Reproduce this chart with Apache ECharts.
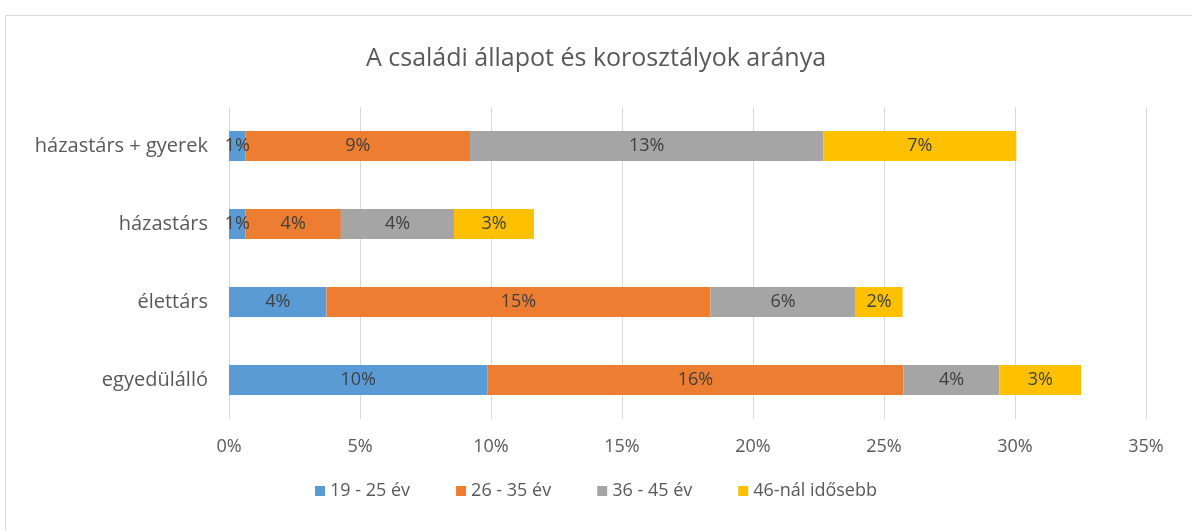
<!DOCTYPE html>
<html>
<head>
<meta charset="utf-8">
<script src="https://cdn.jsdelivr.net/npm/echarts@6/dist/echarts.min.js"></script>
<style>
  html, body { margin: 0; padding: 0; background: #fff; }
  #chart { width: 1192px; height: 531px; }
</style>
</head>
<body>
<div id="chart"></div>
<script>
// kategóriák alulról felfelé (ECharts így rakja a kategória tengelyt)
const categories = ['egyedülálló', 'élettárs', 'házastárs', 'házastárs + gyerek'];
const seriesNames = ['19 - 25 év', '26 - 35 év', '36 - 45 év', '46-nál idősebb'];
const age19to25 = [9.86, 3.72, 0.63, 0.63];
const age26to35 = [15.88, 14.66, 3.64, 8.57];
const age36to45 = [3.67, 5.54, 4.32, 13.48];
const age46plus = [3.11, 1.79, 3.05, 7.37];
const xTicks = [0, 5, 10, 15, 20, 25, 30, 35];

const colors = ['#5B9BD5', '#ED7D31', '#A5A5A5', '#FFC000'];
const font = '"Open Sans", sans-serif';

const chart = echarts.init(document.getElementById('chart'));
const allData = [age19to25, age26to35, age36to45, age46plus];

const option = {
  animation: false,
  color: colors,
  title: {
    text: 'A családi állapot és korosztályok aránya',
    left: 'center',
    top: 41,
    textStyle: { fontFamily: font, fontSize: 25, fontWeight: 'normal', color: '#595959' }
  },
  graphic: [{
    type: 'rect',
    shape: { x: 5.5, y: 15.5, width: 1300, height: 700 },
    style: { fill: 'none', stroke: '#d9d9d9', lineWidth: 1 },
    silent: true
  }],
  legend: {
    data: seriesNames,
    bottom: 26,
    left: 'center',
    itemWidth: 10,
    itemHeight: 10,
    itemGap: 46,
    icon: 'rect',
    textStyle: { fontFamily: font, fontSize: 18, color: '#595959' }
  },
  grid: { left: 229, right: 46, top: 107, height: 312, containLabel: false },
  xAxis: {
    type: 'value',
    min: xTicks[0],
    max: xTicks[xTicks.length - 1],
    interval: 5,
    axisLine: { show: false },
    axisTick: { show: false },
    splitLine: { lineStyle: { color: '#d9d9d9' } },
    axisLabel: {
      margin: 19,
      formatter: v => v + '%',
      fontFamily: font, fontSize: 18, color: '#595959'
    }
  },
  yAxis: {
    type: 'category',
    data: categories,
    axisLine: { show: false },
    axisTick: { show: false },
    axisLabel: { margin: 21, fontFamily: font, fontSize: 20, color: '#595959' }
  },
  series: seriesNames.map((name, i) => ({
    name: name,
    type: 'bar',
    stack: 'total',
    barWidth: 30,
    data: allData[i],
    label: {
      show: true,
      position: 'inside',
      formatter: p => Math.round(p.value) + '%',
      fontFamily: font,
      fontSize: 18,
      color: '#404040'
    }
  }))
};
chart.setOption(option);
</script>
</body>
</html>
